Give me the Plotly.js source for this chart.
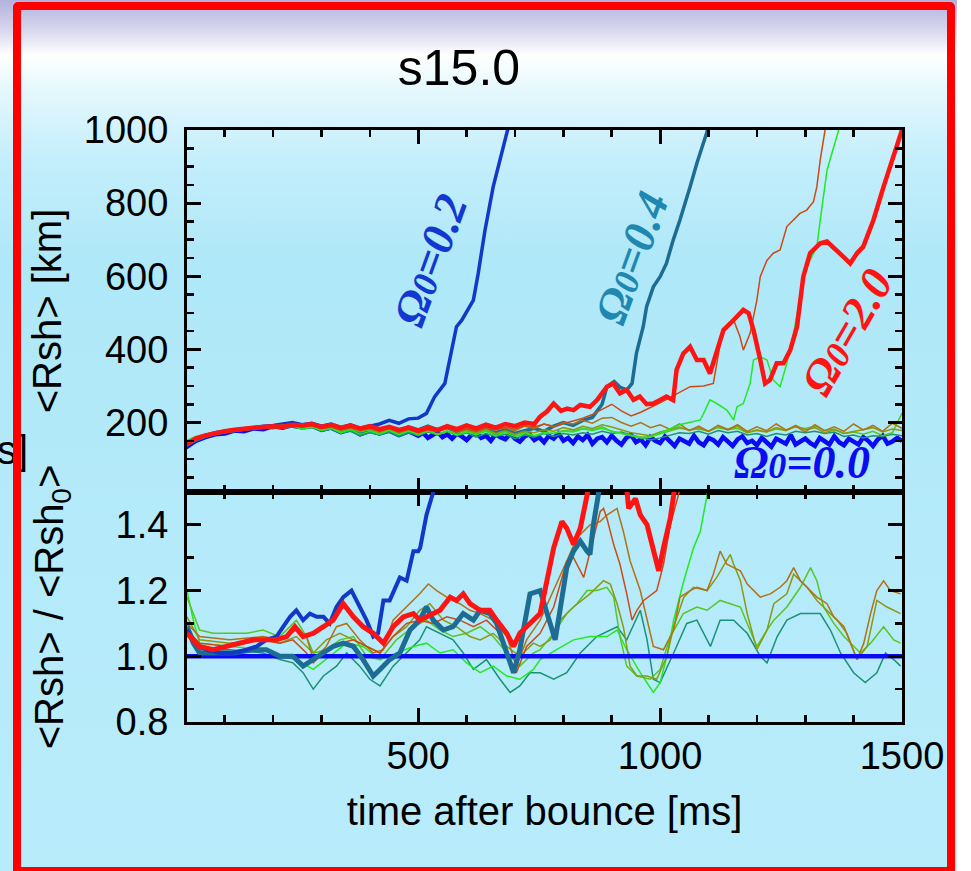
<!DOCTYPE html>
<html>
<head>
<meta charset="utf-8">
<script src="https://cdn.plot.ly/plotly-3.0.1.min.js"></script>
<style>
  html, body { margin: 0; padding: 0; }
  body {
    width: 971px; height: 871px; position: relative; overflow: hidden;
    background: linear-gradient(to bottom,
      #b2b2dc 0px, #d4d4ec 28px, #ffffff 55px, #e4f8fd 90px,
      #c4eefb 160px, #afe8f8 260px, #b4eafa 520px, #b9ecfb 871px);
  }
  #chart { position: absolute; left: 0; top: 0; width: 971px; height: 871px; }
  #frame {
    position: absolute; left: 13px; top: 2px; width: 942px; height: 873px;
    box-sizing: border-box; border: 8px solid #ff0000; border-radius: 5px;
    pointer-events: none;
  }
  #edge { position: absolute; left: 957px; top: 0; width: 14px; height: 871px; background: #ffffff; }
</style>
</head>
<body>
<div id="chart"></div>
<div id="frame"></div>
<div id="edge"></div>
<script>
// ---------- shock radius <Rsh> [km], upper panel ----------
const TIME_BAND = [20,40,60,80,100,120,140,160,180,200,220,240,260,280,300,320,340,360,380,400,
  420,440,460,480,500,520,540,560,580,600,620,640,660,680,700,720,740,760,780,800,
  820,840,860,880,900,920,940,960,980,1000,1020,1040,1060,1080,1100,1120,1140,1160,1180,1200,
  1220,1240,1260,1280,1300,1320,1340,1360,1380,1400,1420,1440,1460,1480,1500];

// Omega0 = 0.0 (non-rotating), finer sampling after 500 ms
const TIME_W00_TOP = [20,40,60,80,100,120,140,160,180,200,220,240,260,280,300,320,340,360,380,400,
  420,440,460,480,500,
  510,520,530,540,550,560,570,580,590,600, 610,620,630,640,650,660,670,680,690,700,
  710,720,730,740,750,760,770,780,790,800, 810,820,830,840,850,860,870,880,890,900,
  910,920,930,940,950,960,970,980,990,1000, 1010,1020,1030,1040,1050,1060,1070,1080,1090,1100,
  1110,1120,1130,1140,1150,1160,1170,1180,1190,1200, 1210,1220,1230,1240,1250,1260,1270,1280,1290,1300,
  1310,1320,1330,1340,1350,1360,1370,1380,1390,1400, 1410,1420,1430,1440,1450,1460,1470,1480,1490,1500];
const RSH_W00 = [132,150,160,168,170,178,176,184,182,190,186,194,188,192,180,186,174,182,168,178,
  170,178,166,176,164,
  172,158,166,174,160,168,156,170,162,152, 166,172,158,164,150,168,160,154,170,156,
  148,162,168,152,160,146,164,156,170,150, 158,144,162,152,166,142,156,160,146,164,
  150,140,158,166,146,154,138,160,150,144, 162,148,136,156,150,142,164,146,138,158,
  152,140,160,146,136,154,162,144,150,138, 158,146,134,156,150,142,166,140,148,156,
  144,136,158,150,140,162,146,138,156,148, 140,160,150,136,154,164,142,148,158,150];

// thin lines that stay in the stalled-shock band
const RSH_TEALGREEN = [136,150,160,168,172,176,178,182,184,186, 184,188,182,186,176,182,170,176,164,172,
  166,174,162,172,164,174,166,176,164,172, 160,170,162,168,156,166,160,170,162,170,
  166,172,168,176,170,174,166,160,152,158, 164,172,170,176,168,178,172,176,166,170,
  162,170,166,176,172,176,170,174,162,166, 158,164,162,168,164];
const RSH_LIME = [150,162,168,174,178,182,184,186,188,190, 188,194,186,190,180,186,176,184,174,180,
  170,180,168,178,166,176,168,178,166,176, 170,178,168,176,166,174,164,172,170,178,
  176,184,180,188,176,170,164,160,162,170, 176,184,180,182,176,186,180,184,172,178,
  174,182,178,188,184,190,178,182,170,174, 168,176,164,172,226];
const RSH_OLIVE = [138,153,163,170,175,178,182,185,186,188, 190,192,186,190,182,188,178,186,176,184,
  172,182,170,180,168,178,166,176,170,180, 172,182,170,178,168,176,172,180,176,186,
  180,190,184,194,188,180,172,168,164,174, 180,188,178,186,176,192,182,190,172,180,
  174,186,178,192,180,186,172,180,170,176, 180,186,174,182,178];
const RSH_BROWN = [140,155,166,172,176,180,184,186,188,190, 192,196,190,194,186,190,182,188,180,186,
  178,186,176,184,174,182,176,186,178,184, 176,188,180,186,178,190,184,196,188,200,
  196,206,198,212,214,200,190,200,186,194, 182,196,178,190,176,192,180,194,176,188,
  178,196,180,190,174,194,178,188,176,196, 180,192,176,198,184];

// thin lines whose shock runs away late
const TIME_GREEN_TOP = [20,40,60,80,100,120,140,160,180,200,220,240,260,280,300,320,340,360,380,400,
  420,440,460,480,500,520,540,560,580,600,620,640,660,680,700,720,740,760,780,800,
  820,840,860,880,900,920,940,960,980,1000,1020,1040,1060,
  1083,1090,1103,1117,1138,1152,1159,1172,1186,1193,1207,1221,1234,1248,1262,1276,1296,1310,1324,1331,1345,1369,1380];
const RSH_GREEN = [148,160,166,172,176,180,182,186,186,188, 186,192,182,188,178,184,172,180,168,176,
  168,178,166,176,168,178,168,176,166,174, 166,176,164,172,162,170,164,172,170,176,
  174,182,178,184,176,170,162,158,160,172, 182,194,200,
  207,225,262,252,234,207,243,252,307,371,380,371,316,298,362,444,599,644,681,754,890,1000,1080];

const TIME_ORANGE_TOP = [20,40,60,80,100,120,140,160,180,200,220,240,260,280,300,320,340,360,380,400,
  420,440,460,480,500,520,540,560,580,600,620,640,660,680,700,720,740,760,780,
  800,820,840,860,880,900,920,940,960,980,1000,1020,1040,1062,1090,1110,1128,1152,1165,1172,
  1186,1200,1207,1221,1234,1248,1262,1289,1303,1317,1324,1331,1341,1350];
const RSH_ORANGE = [142,156,165,172,176,180,184,186,188,190, 190,194,188,192,184,188,180,186,178,184,
  176,184,174,182,172,180,174,184,176,182, 176,186,180,188,182,192,188,196,190,
  196,204,212,222,236,250,232,218,228,240,254,268,282,298,300,307,444,480,435,398,
  444,535,599,644,663,672,736,772,781,804,845,918,1000,1080];

// thick lines: Omega0 = 0.2, 0.4, 2.0
const TIME_W02_TOP = [20,40,60,80,100,120,140,160,180,200,220,240,260,280,300,320,340,360,380,400,
  420,440,460,480,500,517,534,555,579,590,614,624,638,655,683,700];
const RSH_W02 = [140,155,165,172,176,180,183,186,190,192, 196,200,194,198,190,196,186,194,184,190,
  196,206,198,210,212,225,271,307,462,480,535,608,726,845,991,1080];

const TIME_W04_TOP = [20,40,60,80,100,120,140,160,180,200,220,240,260,280,300,320,340,360,380,400,
  420,440,460,480,500,520,540,560,580,600,620,640,660,680,700,720,740,760,780,800,
  820,840,860,880,890,905,918,931,942,951,965,972,986,1000,1013,1027,1041,1062,1076,1096,1110];
const RSH_W04 = [138,152,162,170,175,178,182,185,188,186, 192,190,186,190,182,188,178,186,176,184,
  176,186,178,188,180,190,180,186,176,184, 174,182,172,180,170,178,184,176,190,200,
  192,206,214,250,298,312,296,289,307,389,462,517,571,599,635,699,754,845,909,991,1060];

const TIME_W20_TOP = [20,40,60,80,100,120,140,160,180,200,220,240,260,280,300,320,340,360,380,400,
  420,440,460,480,500,520,540,560,580,600,620,640,660,680,700,720,740,
  752,766,780,795,808,821,835,855,870,890,903,917,931,945,958,972,986,1000,1013,1027,1034,
  1048,1062,1076,1090,1103,1117,1131,1145,1159,1172,1183,1193,1207,1217,1227,1241,1255,1269,
  1283,1296,1310,1331,1345,1365,1379,1393,1407,1420,1441,1462,1483,1496,1500];
const RSH_W20 = [140,156,165,172,176,180,184,186,188,190, 188,194,192,196,188,194,186,192,184,190,
  182,188,180,186,178,186,180,190,182,192, 184,194,186,196,190,200,196,
  216,230,252,232,238,234,248,243,262,298,307,280,289,262,271,250,252,262,271,261,344,
  389,407,371,371,334,389,453,471,489,508,499,453,371,307,316,362,362,398,
  462,599,663,690,695,672,653,635,663,681,754,845,936,991,1000];

// ---------- <Rsh> / <Rsh0>, lower panel ----------
const TIME_RATIO_W00 = [22,1500];
const RATIO_W00 = [1,1];

const TIME_RATIO_TEALGREEN = [22,48,110,179,214,241,262,283,304,331,352,379,400,421,448,476,503,517,545,572,
  593,614,641,669,690,710,731,752,780,807,835,869,911,931,959,973,986,1000,1028,1055,
  1076,1104,1124,1152,1180,1207,1221,1242,1262,1290,1311,1331,1352,1373,1400,1424,1448,1466,1483,1497];
const RATIO_TEALGREEN = [1.10,1.02,1.02,1.01,0.99,0.98,0.95,0.90,0.94,0.97,1.01,0.97,0.93,0.91,0.97,1.01,1.05,1.09,1.07,1.05,
  1.01,0.96,0.99,0.93,0.89,0.91,0.95,0.95,0.93,0.95,1.01,1.06,1.09,1.05,1.14,1.05,0.93,0.92,1.01,1.10,
  1.11,1.03,1.11,1.11,1.07,1.00,0.98,1.06,1.11,1.13,1.13,1.13,1.08,1.01,0.95,0.92,0.95,1.01,0.99,0.97];

const TIME_RATIO_GREEN = [22,35,48,110,179,214,248,283,317,352,386,421,455,490,517,545,572,600,628,655,
  683,710,738,752,786,821,855,890,911,931,959,986,1000,1014,1028,1049,1069,1083,1097,1104,1120];
const RATIO_GREEN = [1.20,1.11,1.04,1.03,1.02,1.00,0.99,0.96,1.00,1.04,1.03,0.99,1.01,1.03,1.04,1.01,1.02,0.98,0.95,0.97,
  0.94,0.93,0.96,0.99,1.02,1.05,1.06,1.06,1.08,1.02,0.95,0.89,0.92,1.00,1.11,1.23,1.33,1.38,1.49,1.53,1.65];

const TIME_RATIO_LIME = [22,35,48,76,145,179,214,248,269,283,310,338,366,393,421,455,490,517,545,572,
  600,628,655,683,710,738,752,780,807,828,849,869,890,904,917,931,952,980,1000,1021,
  1048,1076,1097,1124,1145,1166,1180,1200,1221,1235,1262,1290,1311,1324,1338,1359,1380,1400,1414,1435,
  1462,1483,1497];
const RATIO_LIME = [1.18,1.13,1.08,1.07,1.07,1.08,1.06,1.11,1.06,1.01,1.02,1.05,1.06,1.00,0.99,1.05,1.09,1.11,1.08,1.06,
  1.07,1.09,1.06,1.01,0.97,1.01,1.02,1.07,1.13,1.16,1.20,1.20,1.21,1.18,1.06,0.97,0.94,0.93,0.96,1.06,
  1.13,1.15,1.14,1.17,1.16,1.15,1.10,1.03,1.08,1.11,1.15,1.21,1.27,1.23,1.15,1.10,1.06,1.03,1.01,1.04,
  1.09,1.05,1.04];

const TIME_RATIO_OLIVE = [22,48,110,179,214,248,269,283,310,338,366,393,421,448,476,503,524,552,579,607,
  628,655,683,710,738,752,773,793,821,855,883,897,911,924,938,952,973,993,1014,1028,
  1049,1069,1097,1117,1145,1152,1166,1180,1200,1221,1235,1262,1276,1290,1304,1324,1345,1366,1386,1407,
  1428,1448,1469,1497];
const RATIO_OLIVE = [1.12,1.05,1.04,1.05,1.04,1.06,1.03,1.01,1.05,1.07,1.05,1.03,1.01,1.06,1.09,1.14,1.16,1.11,1.09,1.06,
  1.05,1.07,1.03,1.00,1.04,1.03,1.05,1.11,1.15,1.19,1.23,1.22,1.16,1.09,0.97,0.94,0.94,0.93,1.00,1.09,
  1.18,1.21,1.20,1.24,1.31,1.28,1.23,1.13,1.02,1.08,1.16,1.19,1.25,1.23,1.21,1.17,1.14,1.11,1.07,0.99,
  1.03,1.17,1.15,1.13];

const TIME_RATIO_BROWN = [22,48,110,179,214,248,269,283,310,331,352,379,407,428,448,476,503,521,538,559,
  586,607,628,655,683,703,724,752,780,807,828,855,876,890,911,924,938,959,986,1007,
  1028,1041,1062,1076,1097,1110,1124,1138,1152,1166,1180,1193,1207,1228,1248,1262,1276,1290,1304,1324,
  1345,1359,1380,1393,1407,1421,1435,1448,1462,1476,1497];
const RATIO_BROWN = [1.10,1.06,1.05,1.06,1.05,1.08,1.06,0.99,1.03,1.09,1.10,1.05,1.01,1.02,1.11,1.15,1.19,1.22,1.20,1.18,
  1.16,1.14,1.13,1.11,1.06,0.97,1.05,1.11,1.20,1.29,1.36,1.40,1.41,1.43,1.45,1.38,1.29,1.20,1.03,1.02,
  1.08,1.18,1.20,1.21,1.20,1.25,1.32,1.28,1.27,1.26,1.22,1.20,1.18,1.19,1.21,1.23,1.27,1.23,1.21,1.18,
  1.16,1.12,1.09,1.04,0.99,1.04,1.13,1.20,1.23,1.20,1.19];

const TIME_RATIO_ORANGE = [22,48,110,179,214,241,269,283,310,338,366,393,421,448,476,503,531,559,586,614,
  641,669,690,703,724,752,780,807,821,842,862,876,883,890,904,917,931,942,952,966,
  993,1007,1021,1045,1070];
const RATIO_ORANGE = [1.08,1.04,1.03,1.05,1.04,1.05,1.01,0.98,1.02,1.04,1.05,1.03,1.01,1.06,1.10,1.11,1.10,1.12,1.11,1.09,
  1.11,1.07,0.99,0.95,1.03,1.07,1.15,1.29,1.30,1.24,1.36,1.44,1.45,1.42,1.34,1.28,1.19,1.11,1.14,1.17,
  1.20,1.28,1.40,1.53,1.70];

const TIME_RATIO_W02 = [22,35,48,62,90,117,145,166,186,207,221,235,248,262,276,290,304,317,331,345,
  362,372,393,407,417,428,441,462,476,490,500,504,517,531,545];
const RATIO_W02 = [1.08,1.05,1.03,1.02,1.01,1.01,1.02,1.03,1.05,1.06,1.09,1.12,1.14,1.11,1.13,1.12,1.12,1.10,1.15,1.18,
  1.20,1.17,1.11,1.06,1.07,1.17,1.17,1.24,1.23,1.32,1.32,1.33,1.43,1.50,1.62];

const TIME_RATIO_W04 = [22,35,48,76,117,159,186,214,241,262,283,304,324,345,366,386,407,421,441,462,
  483,503,517,531,552,572,593,614,628,648,662,676,697,710,731,752,783,793,807,821,
  835,849,855,862,869,876,890];
const RATIO_W04 = [1.09,1.04,1.01,1.01,1.01,1.02,1.02,1.00,1.00,0.97,0.99,1.01,1.03,1.04,1.03,0.99,0.94,0.96,0.99,1.01,
  1.08,1.11,1.15,1.11,1.08,1.09,1.13,1.11,1.14,1.13,1.10,1.04,0.95,1.02,1.19,1.20,1.05,1.14,1.27,1.32,
  1.35,1.32,1.31,1.40,1.47,1.53,1.65];

const TIME_RATIO_W20 = [22,35,48,76,104,131,159,186,207,228,245,262,283,304,324,345,366,386,407,428,
  448,469,490,503,531,545,566,579,593,607,628,648,662,683,697,710,731,752,766,780,
  797,807,821,835,849,855,862,880,915,925,935,949,959,973,986,997,1007,1021,1028,1040];
const RATIO_W20 = [1.07,1.05,1.03,1.02,1.03,1.04,1.05,1.05,1.05,1.06,1.09,1.06,1.07,1.09,1.11,1.16,1.12,1.09,1.07,1.04,
  1.09,1.12,1.13,1.11,1.13,1.14,1.18,1.17,1.19,1.16,1.14,1.14,1.11,1.07,1.03,1.07,1.10,1.13,1.23,1.33,
  1.41,1.39,1.34,1.39,1.49,1.53,1.62,1.80,1.80,1.60,1.45,1.48,1.43,1.40,1.33,1.26,1.33,1.42,1.49,1.70];

// ---------- styling ----------
const COLORS = {
  w00: '#0a0af5', w02: '#1238c8', w04: '#1c6c94', w20: '#ff1414',
  tealgreen: '#1a9274', green: '#22ea22', lime: '#56c622', olive: '#8c9812',
  brown: '#b07214', orange: '#cc4a14'
};

function line(x, y, color, width, panel) {
  return {
    x: x, y: y, type: 'scatter', mode: 'lines',
    xaxis: panel === 2 ? 'x2' : 'x', yaxis: panel === 2 ? 'y2' : 'y',
    line: { color: color, width: width }, hoverinfo: 'skip'
  };
}

const traces = [
  // upper panel
  line(TIME_W00_TOP, RSH_W00, COLORS.w00, 4.5, 1),
  line(TIME_W04_TOP, RSH_W04, COLORS.w04, 3.5, 1),
  line(TIME_W02_TOP, RSH_W02, COLORS.w02, 3.5, 1),
  line(TIME_BAND, RSH_TEALGREEN, COLORS.tealgreen, 1.5, 1),
  line(TIME_BAND, RSH_LIME, COLORS.lime, 1.5, 1),
  line(TIME_BAND, RSH_OLIVE, COLORS.olive, 1.5, 1),
  line(TIME_BAND, RSH_BROWN, COLORS.brown, 1.5, 1),
  line(TIME_GREEN_TOP, RSH_GREEN, COLORS.green, 1.5, 1),
  line(TIME_ORANGE_TOP, RSH_ORANGE, COLORS.orange, 1.5, 1),
  line(TIME_W20_TOP, RSH_W20, COLORS.w20, 4.5, 1),
  // lower panel
  line(TIME_RATIO_TEALGREEN, RATIO_TEALGREEN, COLORS.tealgreen, 1.5, 2),
  line(TIME_RATIO_GREEN, RATIO_GREEN, COLORS.green, 1.5, 2),
  line(TIME_RATIO_LIME, RATIO_LIME, COLORS.lime, 1.5, 2),
  line(TIME_RATIO_OLIVE, RATIO_OLIVE, COLORS.olive, 1.5, 2),
  line(TIME_RATIO_BROWN, RATIO_BROWN, COLORS.brown, 1.5, 2),
  line(TIME_RATIO_ORANGE, RATIO_ORANGE, COLORS.orange, 1.5, 2),
  line(TIME_RATIO_W00, RATIO_W00, COLORS.w00, 4.5, 2),
  line(TIME_RATIO_W04, RATIO_W04, COLORS.w04, 5, 2),
  line(TIME_RATIO_W02, RATIO_W02, COLORS.w02, 4, 2),
  line(TIME_RATIO_W20, RATIO_W20, COLORS.w20, 5, 2)
];

const SANS = 'Liberation Sans, Arial, Helvetica, sans-serif';
const SERIF = 'Liberation Serif, Times New Roman, serif';

const axisBase = {
  showline: true, linecolor: '#000', linewidth: 3, mirror: 'allticks',
  ticks: 'inside', ticklen: 14, tickwidth: 3, tickcolor: '#000',
  showgrid: false, zeroline: false,
  tickfont: { family: SANS, size: 38, color: '#000' }
};
const minorBase = { ticks: 'inside', ticklen: 7, tickwidth: 2.5, tickcolor: '#000', showgrid: false };

const omegaFont = (c) => ({ family: SERIF, size: 46, color: c, weight: 'bold', style: 'italic' });
const omegaText = (v) => 'Ω<span style="font-size:36px">0</span>=' + v;

const layout = {
  width: 971, height: 871,
  margin: { l: 187, r: 69, t: 130, b: 149, pad: 0 },
  paper_bgcolor: 'rgba(0,0,0,0)', plot_bgcolor: 'rgba(0,0,0,0)',
  showlegend: false,
  font: { family: SANS, color: '#000' },
  title: {
    text: 's15.0', font: { family: SANS, size: 50, color: '#000' },
    xref: 'container', yref: 'container', x: 0.4727, y: 0.922, xanchor: 'center', yanchor: 'middle'
  },
  xaxis: Object.assign({}, axisBase, {
    domain: [0, 1], anchor: 'y', range: [22, 1500], tick0: 0, dtick: 500,
    showticklabels: false, matches: 'x2',
    minor: Object.assign({ dtick: 100 }, minorBase)
  }),
  xaxis2: Object.assign({}, axisBase, {
    domain: [0, 1], anchor: 'y2', range: [22, 1500], tick0: 0, dtick: 500,
    ticklabelstandoff: -2,
    minor: Object.assign({ dtick: 100 }, minorBase),
    title: { text: 'time after bounce [ms]', font: { family: SANS, size: 40 }, standoff: 22 }
  }),
  yaxis: Object.assign({}, axisBase, {
    domain: [0.3885, 1], anchor: 'x', range: [10, 1000], tick0: 0, dtick: 200,
    ticklabelstandoff: 8,
    minor: Object.assign({ dtick: 50 }, minorBase),
    title: { text: '&lt;Rsh&gt; [km]', font: { family: SANS, size: 40 }, standoff: 10 }
  }),
  yaxis2: Object.assign({}, axisBase, {
    domain: [0, 0.3885], anchor: 'x2', range: [0.8, 1.5], tick0: 0.8, dtick: 0.2, tickformat: '.1f',
    ticklabelstandoff: 8,
    minor: Object.assign({ dtick: 0.1 }, minorBase),
    title: { text: '&lt;Rsh&gt; / &lt;Rsh<sub>0</sub>&gt;', font: { family: SANS, size: 40 }, standoff: 40 }
  }),
  annotations: [
    { xref: 'x', yref: 'y', x: 524, y: 644, text: omegaText('0.2'), textangle: -70,
      showarrow: false, font: omegaFont('#1238d0') },
    { xref: 'x', yref: 'y', x: 942, y: 650, text: omegaText('0.4'), textangle: -70,
      showarrow: false, font: omegaFont('#2088b0') },
    { xref: 'x', yref: 'y', x: 1387, y: 448, text: omegaText('2.0'), textangle: -60,
      showarrow: false, font: omegaFont('#ff1414') },
    { xref: 'x', yref: 'y', x: 1294, y: 92, text: omegaText('0.0'), textangle: 0,
      showarrow: false, font: omegaFont('#0c0cee') },
    { xref: 'paper', yref: 'paper', x: -0.2196, y: 0.4595, xanchor: 'right', yanchor: 'middle',
      text: 's]', showarrow: false, font: { family: SANS, size: 40, color: '#000' } }
  ]
};

Plotly.newPlot('chart', traces, layout, { staticPlot: true, displayModeBar: false });
</script>
</body>
</html>
